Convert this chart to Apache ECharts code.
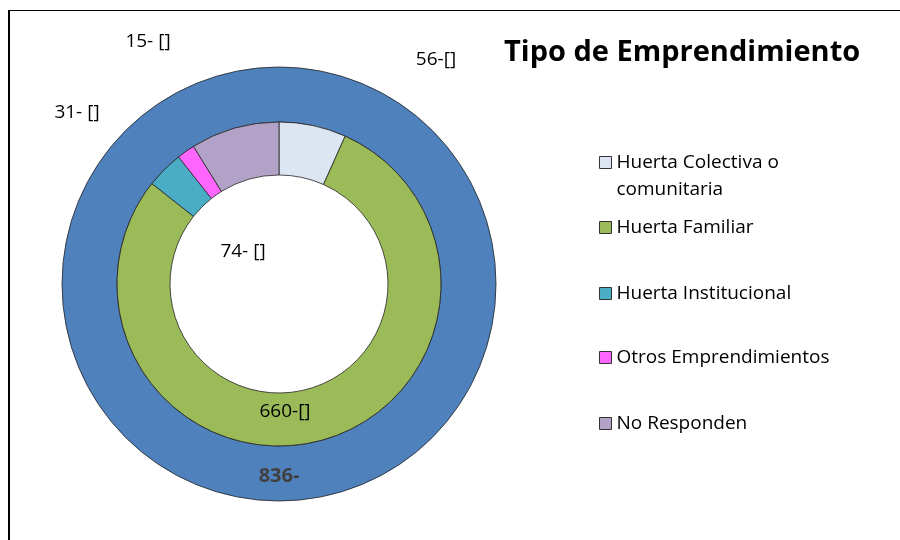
<!DOCTYPE html>
<html>
<head>
<meta charset="utf-8">
<script src="https://cdn.jsdelivr.net/npm/echarts@6/dist/echarts.min.js"></script>
<style>
html,body{margin:0;padding:0;background:#fff;}
#main{width:900px;height:540px;}
#frame{position:absolute;left:8px;top:10px;width:900px;height:540px;border-left:2px solid #000;border-top:1px solid #000;}
</style>
</head>
<body>
<div id="frame"></div>
<div id="main" style="position:absolute;left:0;top:0;"></div>
<script>
var categories = ['Huerta Colectiva o comunitaria', 'Huerta Familiar', 'Huerta Institucional', 'Otros Emprendimientos', 'No Responden'];
var values = [56, 660, 31, 15, 74];
var labelTexts = ['56-[]', '660-[]', '31- []', '15- []', '74- []'];
var colors = ['#DCE6F2', '#9BBB59', '#4BACC6', '#FF66FF', '#B3A2C7'];
var totalValue = 836;
var totalLabel = '836-';

var font = 'Open Sans';
// label spots as Excel placed them
var labelSpots = [[436, 60], [285, 412], [77, 113], [148, 42], [243, 252]];
var legendCenters = [161, 227, 293, 357, 423];

var chart = echarts.init(document.getElementById('main'));

function legends() {
    var list = [];
    for (var i = 0; i < categories.length; i++) {
        var first = i === 0;
        list.push({
            orient: 'vertical',
            left: 599,
            top: first ? legendCenters[i] - 39 : legendCenters[i] - 13,
            padding: 0,
            itemWidth: 12,
            itemHeight: 12,
            itemGap: 5,
            icon: 'rect',
            data: [categories[i]],
            selectedMode: false,
            itemStyle: {borderColor: '#333', borderWidth: 1},
            formatter: function (name) {
                // blank first line keeps the icon beside the first text line
                if (name === categories[0]) return ' \nHuerta Colectiva o\ncomunitaria';
                return name;
            },
            textStyle: {
                fontFamily: font,
                fontSize: 19,
                color: '#000',
                lineHeight: 27
            }
        });
    }
    return list;
}

var option = {
    animation: false,
    title: {
        text: 'Tipo de Emprendimiento',
        left: 504,
        top: 38,
        padding: 0,
        textStyle: {fontFamily: font, fontSize: 29, fontWeight: 'bold', color: '#000'}
    },
    legend: legends(),
    series: [
        {
            type: 'pie',
            center: [279, 284],
            radius: [162, 217],
            silent: true,
            itemStyle: {color: '#4F81BD', borderColor: '#222', borderWidth: 0.8},
            label: {
                position: 'inside',
                formatter: totalLabel,
                fontFamily: font,
                fontSize: 20,
                fontWeight: 'bold',
                color: '#404040'
            },
            labelLine: {show: false},
            data: [{name: 'Total', value: totalValue}]
        },
        {
            type: 'pie',
            center: [279, 284],
            radius: [109, 162],
            silent: true,
            itemStyle: {borderColor: '#222', borderWidth: 0.8},
            label: {
                position: 'inside',
                formatter: function (p) { return labelTexts[p.dataIndex]; },
                fontFamily: font,
                fontSize: 19,
                color: '#000'
            },
            labelLine: {show: false},
            labelLayout: function (p) {
                var s = labelSpots[p.dataIndex];
                if (!s) return {};
                return {x: s[0], y: s[1], align: 'center', verticalAlign: 'middle'};
            },
            data: categories.map(function (c, i) {
                return {name: c, value: values[i], itemStyle: {color: colors[i]}};
            })
        }
    ]
};
chart.setOption(option);
</script>
</body>
</html>
